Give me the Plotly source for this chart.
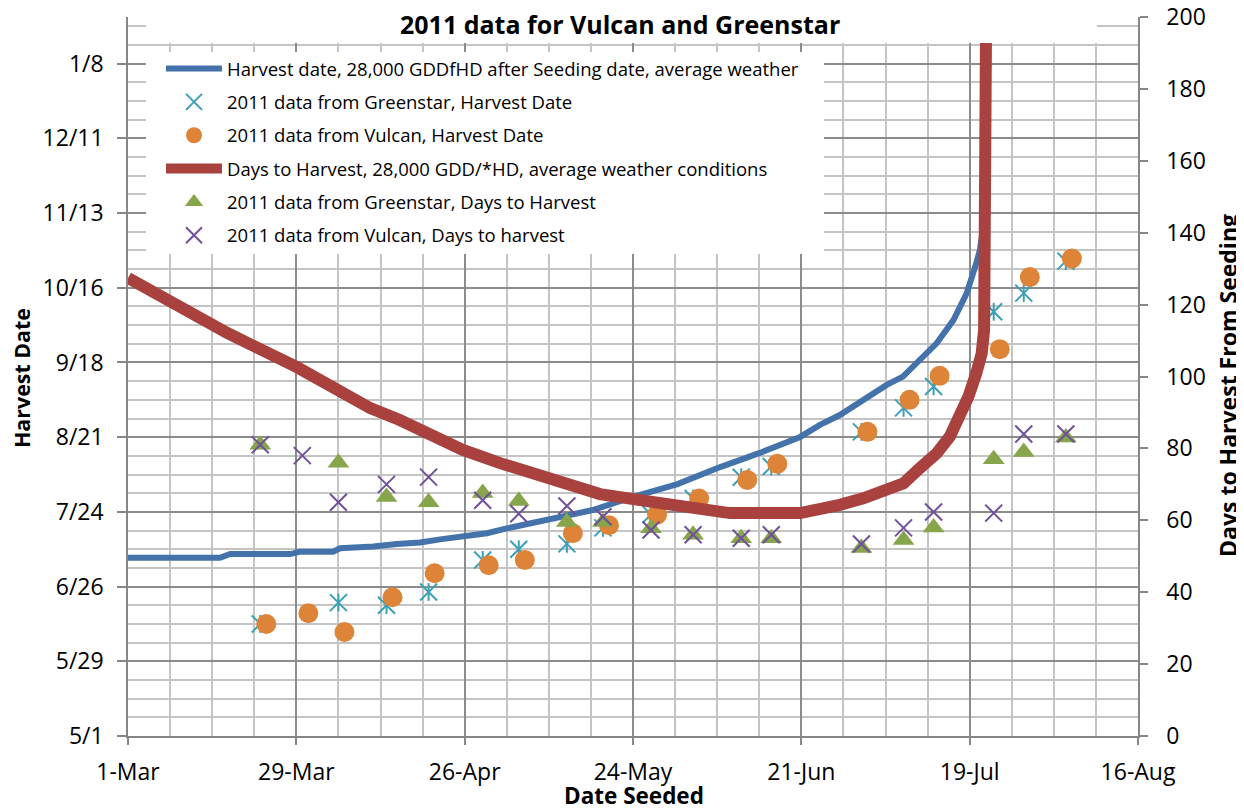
import pandas as pd
import plotly.graph_objects as go

# ---------------- data ----------------
# Model curve: days to harvest (right axis) vs seeding day (days after 1-Mar)
red_seed_day = [0, 16.5, 28.1, 34.9, 40.3, 45.2, 50.2, 55.7, 61.9, 68.5, 71.9, 78.5, 85.2,
                93.5, 100.1, 111.8, 115.1, 118.4, 122.3, 126.2, 129.0, 131.7, 134.5, 136.7,
                138.4, 139.8, 141.1, 142.0, 142.4, 142.5, 142.6, 142.8, 142.85]
red_days = [127.4, 112.1, 102.6, 96.4, 91.2, 87.9, 83.7, 79.6, 75.9, 72.6, 70.4, 67.3, 65.6,
            63.4, 62.0, 62.0, 62.9, 64.3, 66.1, 68.4, 70.3, 74.5, 78.6, 83.3,
            88.8, 94.4, 100.9, 106.4, 112.9, 125.0, 143.5, 200.0, 230.0]

# Model curve: harvest date (left axis, days after 1-May) vs seeding day (days after 1-Mar)
blue_seed_day = [0, 15.3, 17, 27, 28.6, 34.1, 35.3, 40.8, 44.7, 48.6, 51.9, 55.7, 59.7, 63,
                 68.5, 70.2, 77.3, 84, 91.4, 98.5, 105.1, 111.8, 115.1, 118.4, 122.3, 126.2,
                 128.9, 131.7, 134.5, 137.3, 139.5, 141.1, 141.7, 142.2]
blue_harvest_day = [66.8, 66.8, 68.2, 68.2, 69.1, 69.1, 70.4, 71.0, 72.0, 72.5, 73.7, 74.9, 76.0, 77.8,
                    80.3, 81.6, 84.7, 89.6, 94.4, 100.8, 106.1, 112.1, 116.6, 120.3, 125.9, 131.6,
                    134.7, 141.0, 147.2, 155.9, 165.9, 177.2, 182.2, 190.0]

# 2011 Greenstar data
gs_seed = ["2011-03-23", "2011-04-05", "2011-04-13", "2011-04-20", "2011-04-29", "2011-05-05",
           "2011-05-13", "2011-05-19", "2011-05-27", "2011-06-03", "2011-06-11", "2011-06-16",
           "2011-07-01", "2011-07-08", "2011-07-13", "2011-07-23", "2011-07-28", "2011-08-04"]
gs_harvest = ["2011-06-12", "2011-06-20", "2011-06-19", "2011-06-24", "2011-07-06", "2011-07-10",
              "2011-07-12", "2011-07-18", "2011-07-23", "2011-07-29", "2011-08-06", "2011-08-10",
              "2011-08-23", "2011-09-01", "2011-09-09", "2011-10-07", "2011-10-14", "2011-10-26"]
gs_days = [81, 76, 66.5, 65, 67.6, 65.4, 59.5, 59.5, 57.8, 56, 55, 55, 52.3, 54.5, 58, 77, 79, 83]

# 2011 Vulcan data
vu_seed = ["2011-03-23", "2011-03-30", "2011-04-05", "2011-04-13", "2011-04-20", "2011-04-29",
           "2011-05-05", "2011-05-13", "2011-05-19", "2011-05-27", "2011-06-03", "2011-06-11",
           "2011-06-16", "2011-07-01", "2011-07-08", "2011-07-13", "2011-07-23", "2011-07-28",
           "2011-08-04"]
vu_harvest_seed = ["2011-03-24", "2011-03-31", "2011-04-06", "2011-04-14", "2011-04-21", "2011-04-30",
                   "2011-05-06", "2011-05-14", "2011-05-20", "2011-05-28", "2011-06-04", "2011-06-12",
                   "2011-06-17", "2011-07-02", "2011-07-09", "2011-07-14", "2011-07-24", "2011-07-29",
                   "2011-08-05"]
vu_harvest = ["2011-06-12", "2011-06-16", "2011-06-09", "2011-06-22", "2011-07-01", "2011-07-04",
              "2011-07-06", "2011-07-16", "2011-07-19", "2011-07-23", "2011-07-29", "2011-08-05",
              "2011-08-11", "2011-08-23", "2011-09-04", "2011-09-13", "2011-09-23", "2011-10-20",
              "2011-10-27"]
vu_days = [81, 78, 65, 70, 72, 65.6, 61.8, 64, 61, 57.3, 56, 55, 56, 53.4, 57.9, 62.3, 62, 84, 84]

right_ticks = [0, 20, 40, 60, 80, 100, 120, 140, 160, 180, 200]

names = [
    "Harvest date, 28,000 GDDfHD after Seeding date, average weather",
    "2011 data from Greenstar, Harvest Date",
    "2011 data from Vulcan, Harvest Date",
    "Days to Harvest, 28,000 GDD/*HD, average weather conditions",
    "2011 data from Greenstar, Days to Harvest",
    "2011 data from Vulcan, Days to harvest",
]
title_text = "2011 data for Vulcan and Greenstar"

# ---------------- conversions ----------------
mar1 = pd.Timestamp("2011-03-01")
may1 = pd.Timestamp("2011-05-01")
red_x = mar1 + pd.to_timedelta(red_seed_day, unit="D")
blue_x = mar1 + pd.to_timedelta(blue_seed_day, unit="D")
blue_y = may1 + pd.to_timedelta(blue_harvest_day, unit="D")

# vertical stroke of the Excel-style star marker (centred on each Greenstar point)
STAR_HALF = pd.Timedelta(hours=80)
star_x, star_y = [], []
for sx, hy in zip(gs_seed, gs_harvest):
    t = pd.Timestamp(hy)
    star_x += [sx, sx, None]
    star_y += [t - STAR_HALF, t + STAR_HALF, None]

C_BLUE = "#4373aa"
C_RED = "#a9423f"
C_CYAN = "#3c9fb8"
C_ORANGE = "#de8439"
C_GREEN = "#87a54b"
C_PURPLE = "#70509a"
FONT = "Open Sans"
DAY_MS = 86400000

fig = go.Figure()

fig.add_trace(go.Scatter(x=blue_x, y=blue_y, mode="lines", name=names[0], legendgroup="g1",
                         line=dict(color=C_BLUE, width=6)))
fig.add_trace(go.Scatter(x=gs_seed, y=gs_harvest, mode="markers", name=names[1], legendgroup="g2",
                         marker=dict(symbol="x-thin-open", size=17, color=C_CYAN,
                                     line=dict(width=2, color=C_CYAN))))
fig.add_trace(go.Scatter(x=star_x, y=star_y, mode="lines", name=names[1] + " (stroke)",
                         legendgroup="g2", showlegend=False, hoverinfo="skip",
                         line=dict(color=C_CYAN, width=2)))
fig.add_trace(go.Scatter(x=vu_harvest_seed, y=vu_harvest, mode="markers", name=names[2], legendgroup="g3",
                         marker=dict(symbol="circle", size=20, color=C_ORANGE, line=dict(width=0))))
fig.add_trace(go.Scatter(x=red_x, y=red_days, mode="lines", name=names[3], legendgroup="g4",
                         yaxis="y2", line=dict(color=C_RED, width=12)))
fig.add_trace(go.Scatter(x=gs_seed, y=gs_days, mode="markers", name=names[4], legendgroup="g5",
                         yaxis="y2",
                         marker=dict(symbol="triangle-up", size=19, color=C_GREEN, line=dict(width=0))))
fig.add_trace(go.Scatter(x=vu_seed, y=vu_days, mode="markers", name=names[5], legendgroup="g6",
                         yaxis="y2",
                         marker=dict(symbol="x-thin-open", size=17, color=C_PURPLE,
                                     line=dict(width=2, color=C_PURPLE))))

AX = "#868686"
OFF = 8                      # page offset of the figure (body margin)
W, H = 1236, 804
# plot area in page pixels: x 128..1138, y 17..736
L = 128 - OFF
T = 17 - OFF
R = W - (1138 - OFF)
B = H - (736 - OFF)
PW, PH = W - L - R, H - T - B


def px_x(px):
    return (px - OFF - L) / PW


def px_y(py):
    return (H - B - (py - OFF)) / PH


fig.update_layout(
    width=W, height=H,
    margin=dict(l=L, r=R, t=T, b=B, autoexpand=False),
    paper_bgcolor="white", plot_bgcolor="white",
    font=dict(family=FONT, color="black", size=23),
    showlegend=True,
    legend=dict(x=px_x(161), y=px_y(50), xanchor="left", yanchor="top",
                bgcolor="rgba(0,0,0,0)", borderwidth=0,
                font=dict(family=FONT, size=18.5, color="black"),
                itemwidth=56, tracegroupgap=6.3, traceorder="grouped"),
    xaxis=dict(
        type="date", range=["2011-03-01", "2011-08-16"], automargin=False,
        tick0="2011-03-01", dtick=28 * DAY_MS, tickformat="%-d-%b",
        showgrid=True, gridcolor="#8c8c8c", gridwidth=1.5,
        minor=dict(dtick=7 * DAY_MS, tick0="2011-03-01", showgrid=True, gridcolor="#c4c4c4", gridwidth=1.5),
        showline=True, linecolor=AX, linewidth=1.5,
        ticks="outside", ticklen=7, tickcolor=AX, tickwidth=1.5,
        ticklabelstandoff=8, zeroline=False, ticklabeloverflow="allow",
        tickfont=dict(family=FONT, size=23, color="black"),
    ),
    yaxis=dict(
        type="date", range=["2011-05-01", "2012-01-25 12:00"], automargin=False,
        tick0="2011-05-01", dtick=28 * DAY_MS, tickformat="%-m/%-d",
        showgrid=True, gridcolor="#8c8c8c", gridwidth=1.5,
        minor=dict(dtick=7 * DAY_MS, tick0="2011-05-01", showgrid=True, gridcolor="#c4c4c4", gridwidth=1.5),
        showline=True, linecolor=AX, linewidth=1.5,
        ticks="outside", ticklen=9, tickcolor=AX, tickwidth=1.5,
        ticklabelstandoff=9, zeroline=False, ticklabeloverflow="allow",
        tickfont=dict(family=FONT, size=23, color="black"),
    ),
    yaxis2=dict(
        overlaying="y", side="right", range=[0, 200], automargin=False,
        tickmode="array", tickvals=right_ticks,
        showgrid=False, zeroline=False,
        showline=True, linecolor=AX, linewidth=1.5,
        ticks="outside", ticklen=8, tickcolor=AX, tickwidth=1.5,
        ticklabelstandoff=14, ticklabeloverflow="allow",
        tickfont=dict(family=FONT, size=23, color="black"),
    ),
    shapes=[
        dict(type="rect", xref="paper", yref="paper", layer="above",
             x0=px_x(146), x1=px_x(1097), y0=px_y(43), y1=px_y(-5),
             fillcolor="white", line=dict(width=0)),
        dict(type="rect", xref="paper", yref="paper", layer="above",
             x0=px_x(146), x1=px_x(824), y0=px_y(254), y1=px_y(52),
             fillcolor="white", line=dict(width=0)),
    ],
    annotations=[
        dict(text="<b>" + title_text + "</b>", xref="paper", yref="paper",
             x=px_x(620), y=px_y(24), xanchor="center", yanchor="middle", showarrow=False,
             font=dict(family=FONT, size=25, color="black")),
        dict(text="<b>Harvest Date</b>", xref="paper", yref="paper",
             x=px_x(21), y=px_y(378), xanchor="center", yanchor="middle", showarrow=False,
             textangle=-90, font=dict(family=FONT, size=21.4, color="black")),
        dict(text="<b>Days to Harvest From Seeding</b>", xref="paper", yref="paper",
             x=px_x(1228), y=px_y(386), xanchor="center", yanchor="middle", showarrow=False,
             textangle=-90, font=dict(family=FONT, size=23, color="black")),
        dict(text="<b>Date Seeded</b>", xref="paper", yref="paper",
             x=px_x(634), y=px_y(796), xanchor="center", yanchor="middle", showarrow=False,
             font=dict(family=FONT, size=22.5, color="black")),
    ],
)

fig.write_html("out.html")
